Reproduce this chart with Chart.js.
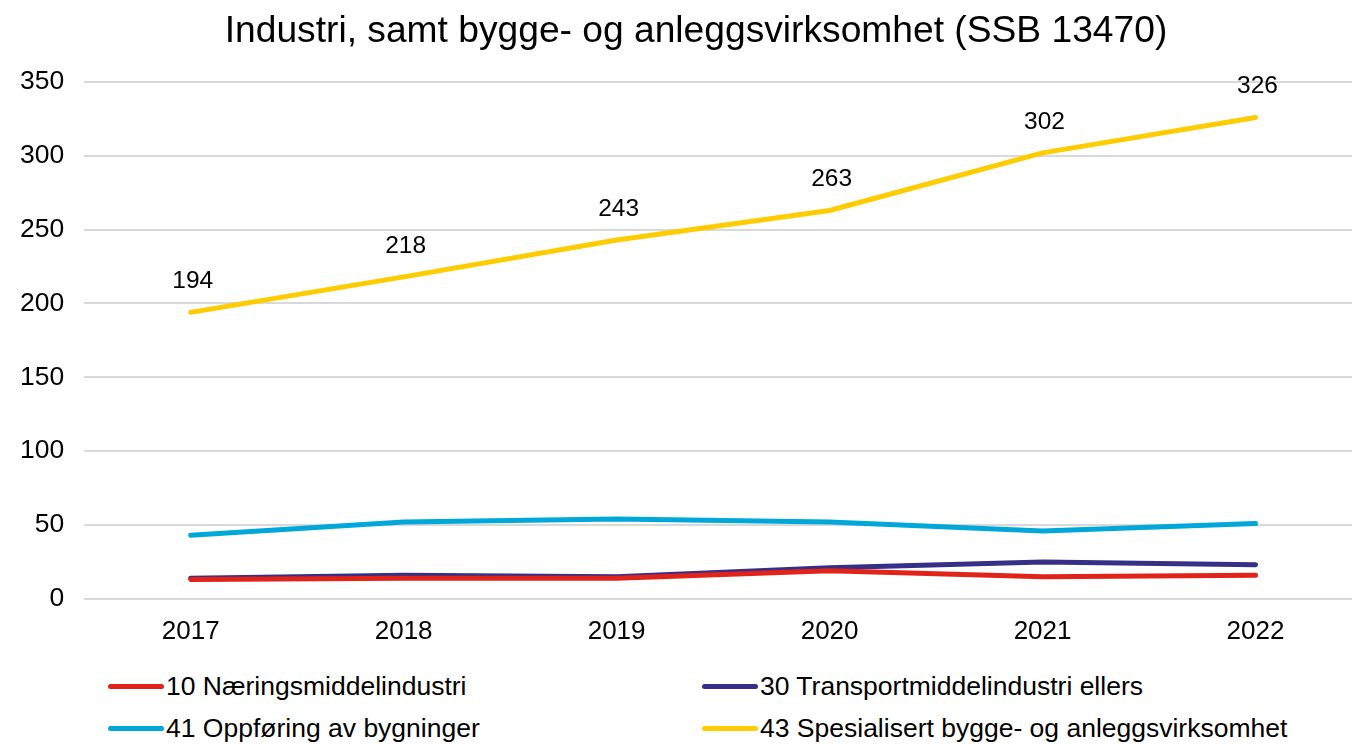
<!DOCTYPE html>
<html>
<head>
<meta charset="utf-8">
<script src="https://cdn.jsdelivr.net/npm/chart.js@4"></script>
<style>
  html, body { margin: 0; padding: 0; background: #fff; overflow: hidden; }
  #wrap { position: relative; width: 1352px; height: 744px; overflow: hidden; }
  #box { position: absolute; left: 0; top: 0; width: 1392px; height: 664px; }
  .legend { position: absolute; font-family: "Liberation Sans", Arial, sans-serif; font-size: 26.5px; color: #000; }
  .item { position: absolute; white-space: nowrap; display: flex; align-items: center; }
  .item span.sw { display: inline-block; width: 56px; height: 5px; border-radius: 3px; margin-right: 2px; }
</style>
</head>
<body>
<div id="wrap">
  <div id="box"><canvas id="chart"></canvas></div>
  <div class="legend" id="legend"></div>
</div>
<script>
const years = ["2017", "2018", "2019", "2020", "2021", "2022"]
const seriesNames = [
  "10 Næringsmiddelindustri",
  "30 Transportmiddelindustri ellers",
  "41 Oppføring av bygninger",
  "43 Spesialisert bygge- og anleggsvirksomhet"
]
const naering = [13, 14, 14, 19, 15, 16]
const transport = [14, 16, 15, 21, 25, 23]
const oppforing = [43, 52, 54, 52, 46, 51]
const spesialisert = [194, 218, 243, 263, 302, 326]
const yTicks = [0, 50, 100, 150, 200, 250, 300, 350]
const chartTitle = "Industri, samt bygge- og anleggsvirksomhet (SSB 13470)"

const colors = ["#E2231A", "#352F87", "#00A8D9", "#FFCC00"]
const allData = [naering, transport, oppforing, spesialisert]
const fontFam = "'Liberation Sans', Arial, sans-serif"

// title + labels over the yellow line
const extras = {
  id: "extras",
  afterDatasetsDraw(chart) {
    const ctx = chart.ctx
    const meta = chart.getDatasetMeta(3)
    ctx.save()
    ctx.fillStyle = "#000"
    ctx.textAlign = "center"
    ctx.textBaseline = "middle"
    ctx.font = "24.5px " + fontFam
    meta.data.forEach((pt, i) => {
      ctx.fillText(spesialisert[i], pt.x + 2, pt.y - 31)
    })
    ctx.font = "37.2px " + fontFam
    ctx.fillText(chartTitle, 696, 32)
    ctx.restore()
  }
}

const ctx = document.getElementById("chart").getContext("2d")
new Chart(ctx, {
  type: "line",
  data: {
    labels: years,
    datasets: allData.map((d, i) => ({
      label: seriesNames[i],
      data: d,
      borderColor: colors[i],
      backgroundColor: colors[i],
      borderWidth: 5,
      pointRadius: 0,
      borderCapStyle: "round",
      borderJoinStyle: "round",
      tension: 0
    }))
  },
  options: {
    responsive: true,
    maintainAspectRatio: false,
    animation: false,
    layout: { padding: { left: 0, right: 30, top: 82, bottom: 0 } },
    scales: {
      x: {
        type: "category",
        offset: true,
        grid: { display: false, drawTicks: false },
        border: { display: false },
        ticks: {
          color: "#000",
          padding: 17,
          font: { family: fontFam, size: 26 }
        }
      },
      y: {
        min: 0,
        max: 350,
        afterBuildTicks(axis) { axis.ticks = yTicks.map(v => ({ value: v })) },
        grid: { color: "#D9D9D9", lineWidth: 2, drawTicks: false },
        border: { display: false },
        ticks: {
          color: "#000",
          padding: 20,
          font: { family: fontFam, size: 26.5 }
        }
      }
    },
    plugins: {
      legend: { display: false },
      tooltip: { enabled: false },
      title: { display: false }
    }
  },
  plugins: [extras]
})

// legend in two columns
const legend = document.getElementById("legend")
const pos = [[108, 686], [702, 686], [108, 728], [702, 728]]
seriesNames.forEach((name, i) => {
  const el = document.createElement("div")
  el.className = "item"
  el.style.left = pos[i][0] + "px"
  el.style.top = (pos[i][1] - 15) + "px"
  el.style.height = "30px"
  el.innerHTML = '<span class="sw" style="background:' + colors[i] + '"></span>' + name
  legend.appendChild(el)
})
</script>
</body>
</html>
